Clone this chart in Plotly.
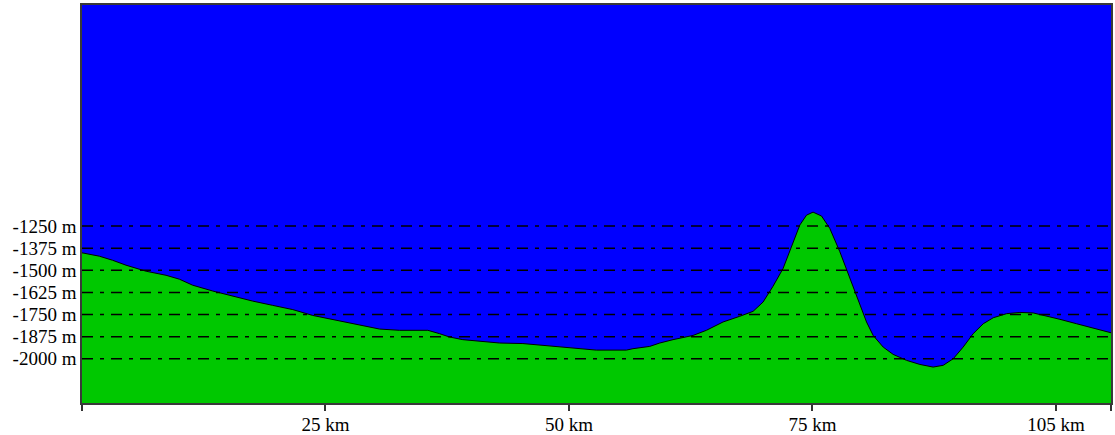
import plotly.graph_objects as go

# Terrain profile (distance in km, elevation in m)
distance_km = [0, 1.78, 3.14, 4.52, 6.58, 8.63, 10.0, 11.36, 13.42, 15.47, 17.53, 19.58,
               21.64, 23.69, 25.75, 27.46, 28.83, 30.55, 32.60, 35.51, 36.71, 37.74, 39.10,
               41.16, 42.87, 45.27, 47.97, 49.73, 51.43, 52.81, 55.89, 56.57, 58.29, 59.32,
               60.68, 62.74, 64.11, 65.82, 67.53, 68.90, 69.93, 70.95, 71.98, 73.01, 73.70,
               74.39, 75.06, 75.93, 76.78, 77.81, 78.84, 79.86, 80.55, 81.23, 82.26, 83.28,
               84.66, 86.03, 87.39, 88.42, 89.45, 90.47, 91.50, 92.53, 93.56, 94.93, 96.30,
               97.67, 99.04, 100.41, 102.12, 103.83, 105.65]
elevation_m = [-1401, -1420, -1443, -1471, -1505, -1528, -1550, -1584, -1617, -1647, -1674, -1698,
               -1722, -1755, -1779, -1798, -1813, -1832, -1839, -1839, -1858, -1877, -1892,
               -1903, -1911, -1914, -1926, -1935, -1943, -1951, -1951, -1943, -1930, -1911,
               -1892, -1868, -1839, -1792, -1760, -1732, -1679, -1590, -1490, -1348, -1244,
               -1188, -1171, -1193, -1263, -1395, -1546, -1698, -1792, -1868, -1934, -1975,
               -2009, -2032, -2047, -2037, -2000, -1934, -1858, -1802, -1768, -1745, -1738,
               -1741, -1757, -1777, -1802, -1825, -1853]

# Axes
x_range = [0, 105.65]
y_range = [-2250, 0]
x_tick_vals = [0, 25, 50, 75, 100, 105.65]
x_tick_text = ["", "25 km", "50 km", "75 km", "105 km", ""]
y_tick_vals = [-1250, -1375, -1500, -1625, -1750, -1875, -2000]
y_tick_text = ["-1250 m", "-1375 m", "-1500 m", "-1625 m", "-1750 m", "-1875 m", "-2000 m"]

fig = go.Figure()

# baseline for fill
fig.add_trace(go.Scatter(x=distance_km, y=[y_range[0]] * len(distance_km), mode="lines",
                         line=dict(width=0, color="#00C800"), hoverinfo="skip", showlegend=False))
fig.add_trace(go.Scatter(x=distance_km, y=elevation_m, mode="lines", fill="tonexty",
                         fillcolor="#00C800", line=dict(color="#000000", width=1),
                         showlegend=False))

# dash-dot reference lines
for v in y_tick_vals:
    fig.add_trace(go.Scatter(x=x_range, y=[v, v], mode="lines",
                             line=dict(color="#000000", width=1.5, dash="11px,7px,4px,7px"),
                             hoverinfo="skip", showlegend=False))

font = dict(family="Liberation Serif, Times New Roman, serif", size=19, color="#000000")

fig.update_layout(
    width=1115, height=435,
    margin=dict(l=82, r=4, t=5, b=32),
    paper_bgcolor="#FFFFFF",
    plot_bgcolor="#0000FF",
    font=font,
    showlegend=False,
    xaxis=dict(range=x_range, tickvals=x_tick_vals, ticktext=x_tick_text,
               ticks="outside", ticklen=6, tickwidth=1.5, tickcolor="#333333",
               showgrid=False, zeroline=False, showline=True, linecolor="#3a3a3a",
               linewidth=1.5, mirror=True, tickfont=font, automargin=False,
               ticklabelstandoff=-3),
    yaxis=dict(range=y_range, tickvals=y_tick_vals, ticktext=y_tick_text,
               ticks="", showgrid=False, zeroline=False, showline=True,
               linecolor="#3a3a3a", linewidth=1.5, mirror=True, tickfont=font,
               automargin=False),
)

fig.write_html("out.html")
